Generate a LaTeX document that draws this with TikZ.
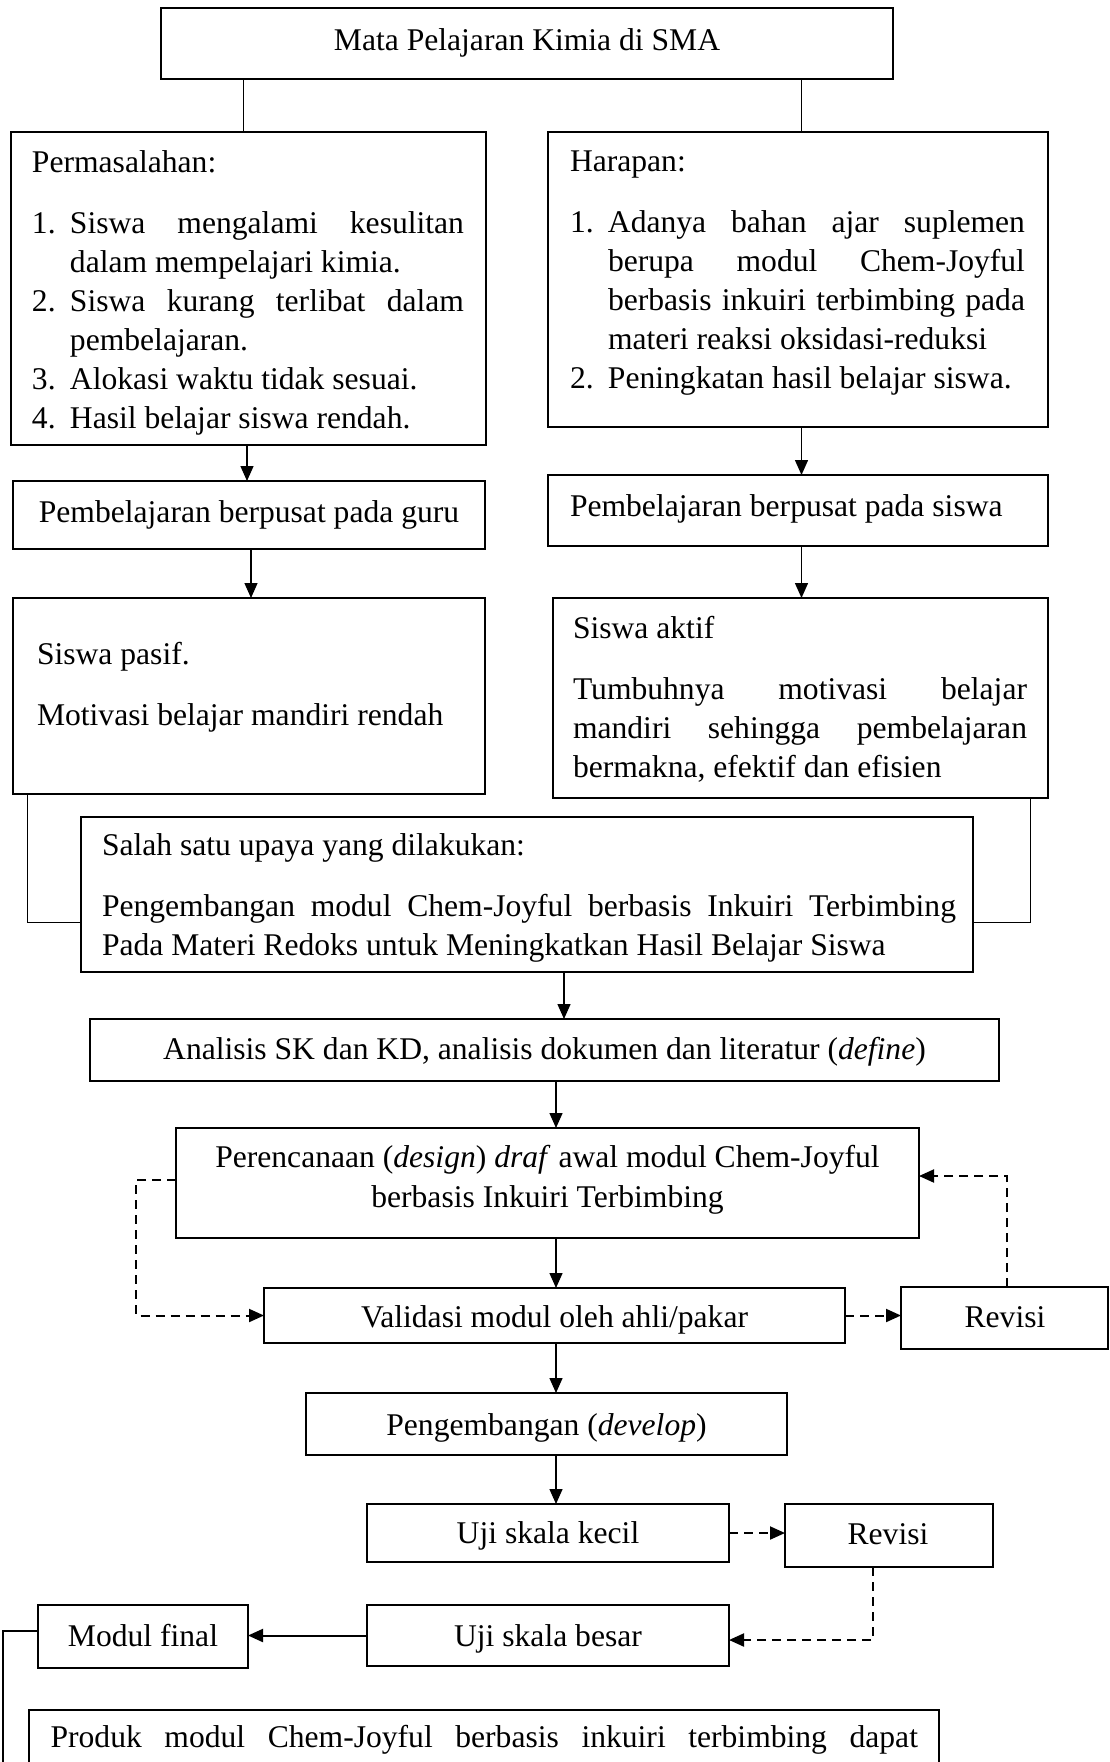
\documentclass[tikz,border=0pt]{standalone}
\usepackage{fontspec}
\setmainfont{Liberation Serif}
\usetikzlibrary{arrows.meta,calc}
\hyphenpenalty=10000 \exhyphenpenalty=10000 \tolerance=10000 \hbadness=10000
\newcommand\fs{\fontsize{15.8}{19.5}\selectfont}
\newcommand\litem[2]{\par\hangindent=19pt\hangafter=1\noindent\hbox to 19pt{#1\hfil}#2}
\newcommand\mkbox[5]{\node[box, minimum width={(#4-#2)*0.5pt}, minimum height={(#5-#3)*0.5pt}, anchor=north west] (#1) at (#2,#3) {};}
\tikzset{
  box/.style={draw, line width=1.1pt, outer sep=0pt, inner sep=0pt},
  lbl/.style={inner sep=0pt, outer sep=0pt, font=\fs, anchor=base},
  para/.style={inner sep=0pt, outer sep=0pt, font=\fs, anchor=base west, align=justify},
  thinline/.style={line width=0.5pt},
  arr/.style={line width=0.7pt, -{Triangle[length=7.5pt,width=6.5pt]}},
  dsh/.style={line width=1pt, dash pattern=on 4.5pt off 3pt, -{Triangle[length=7.5pt,width=6.5pt]}},
}
\begin{document}
\begin{tikzpicture}[x=0.5pt,y=-0.5pt]
\useasboundingbox (0,0) rectangle (1109,1762);
\clip (0,0) rectangle (1109,1762);
\coordinate (spine) at (556,0);
\coordinate (bl) at (3,1790);
% boxes
\mkbox{top}{161}{8}{893}{79}
\mkbox{perm}{11}{132}{486}{445}
\mkbox{harap}{548}{132}{1048}{427}
\mkbox{guru}{13}{481}{485}{549}
\mkbox{siswa}{548}{475}{1048}{546}
\mkbox{pasif}{13}{598}{485}{794}
\mkbox{aktif}{553}{598}{1048}{798}
\mkbox{salah}{81}{817}{973}{972}
\mkbox{analisis}{90}{1019}{999}{1081}
\mkbox{perenc}{176}{1128}{919}{1238}
\mkbox{validasi}{264}{1288}{845}{1343}
\mkbox{revisiA}{901}{1287}{1108}{1349}
\mkbox{develop}{306}{1393}{787}{1455}
\mkbox{kecil}{367}{1504}{729}{1562}
\mkbox{revisiB}{785}{1504}{993}{1567}
\mkbox{besar}{367}{1605}{729}{1666}
\mkbox{modul}{38}{1605}{248}{1668}
\mkbox{produk}{29}{1710}{939}{1840}
% texts
\node[lbl] (t0) at (527,50) {Mata Pelajaran Kimia di SMA};
\node[para, text width=216pt] (tperm) at (32,172) {Permasalahan:\par\vspace{11pt}%
\litem{1.}{Siswa mengalami kesulitan\linebreak dalam mempelajari kimia.}%
\litem{2.}{Siswa kurang terlibat dalam\linebreak pembelajaran.}%
\litem{3.}{Alokasi waktu tidak sesuai.}%
\litem{4.}{Hasil belajar siswa rendah.}};
\node[para, text width=227.5pt] (tharap) at (570,171) {Harapan:\par\vspace{11pt}%
\litem{1.}{Adanya bahan ajar suplemen\linebreak berupa modul Chem-Joyful\linebreak berbasis inkuiri terbimbing pada\linebreak materi reaksi oksidasi-reduksi}%
\litem{2.}{Peningkatan hasil belajar siswa.}};
\node[lbl] (tguru) at (249,522) {Pembelajaran berpusat pada guru};
\node[lbl, anchor=base west] (tsiswa) at (570,516) {Pembelajaran berpusat pada siswa};
\node[para, text width=216pt] (tpasif) at (37,664) {Siswa pasif.\par\vspace{11pt}Motivasi belajar mandiri rendah};
\node[para, text width=227pt] (taktif) at (573,638) {Siswa aktif\par\vspace{11pt}Tumbuhnya motivasi belajar\linebreak mandiri sehingga pembelajaran\linebreak bermakna, efektif dan efisien};
\node[para, text width=427pt] (tsalah) at (102,855) {Salah satu upaya yang dilakukan:\par\vspace{11pt}Pengembangan modul Chem-Joyful berbasis Inkuiri Terbimbing\linebreak Pada Materi Redoks untuk Meningkatkan Hasil Belajar Siswa};
\node[lbl] (tanalisis) at (544.5,1059) {Analisis SK dan KD, analisis dokumen dan literatur (\textit{define})};
\node[lbl] (tperencA) at (547.5,1167) {Perencanaan (\textit{design}) \textit{draf} awal modul Chem-Joyful};
\node[lbl] (tperencB) at (547.5,1207) {berbasis Inkuiri Terbimbing};
\node[lbl] (tvalidasi) at (554.5,1327) {Validasi modul oleh ahli/pakar};
\node[lbl] (trevisiA) at (1005,1327) {Revisi};
\node[lbl] (tdevelop) at (546.5,1435) {Pengembangan (\textit{develop})};
\node[lbl] (tkecil) at (548,1543) {Uji skala kecil};
\node[lbl] (trevisiB) at (888,1544) {Revisi};
\node[lbl] (tbesar) at (548,1646) {Uji skala besar};
\node[lbl] (tmodul) at (143,1646) {Modul final};
\node[para, text width=433.7pt] (tproduk) at (50.6,1747) {Produk modul Chem-Joyful berbasis inkuiri terbimbing dapat\linebreak\mbox{}};
% thin connectors
\draw[thinline] ([xshift=-2.75pt]perm.north) -- ([xshift=-2.75pt]perm.north |- top.south);
\draw[thinline] ([xshift=1.75pt]harap.north) -- ([xshift=1.75pt]harap.north |- top.south);
\draw[thinline] ([xshift=7pt]pasif.south west) |- ([yshift=-13.75pt]salah.west);
\draw[thinline] ([xshift=-9pt]aktif.south east) |- ([yshift=-13.75pt]salah.east);
% solid arrows
\draw[arr] ([xshift=-0.75pt]perm.south) -- ([xshift=-0.75pt]perm.south |- guru.north);
\draw[arr] ([xshift=1pt]guru.south) -- ([xshift=1pt]guru.south |- pasif.north);
\draw[arr] ([xshift=1.75pt]harap.south) -- ([xshift=1.75pt]harap.south |- siswa.north);
\draw[arr] ([xshift=1.75pt]siswa.south) -- ([xshift=1.75pt]siswa.south |- aktif.north);
\draw[arr] ([xshift=18.5pt]salah.south) -- ([xshift=18.5pt]salah.south |- analisis.north);
\draw[arr] (analisis.south -| spine) -- (perenc.north -| spine);
\draw[arr] (perenc.south -| spine) -- (validasi.north -| spine);
\draw[arr] (validasi.south -| spine) -- (develop.north -| spine);
\draw[arr] (develop.south -| spine) -- (kecil.north -| spine);
\draw[arr, line width=1pt] (besar.west) -- (besar.west -| modul.east);
\draw[line width=0.9pt] ([yshift=2.75pt]modul.west) -| (bl);
% dashed
\draw[dsh] ([yshift=1.5pt]perenc.west) -- ++(-20pt,0) |- (validasi.west);
\draw[dsh] (validasi.east) -- (validasi.east -| revisiA.west);
\draw[dsh] ([xshift=1.25pt]revisiA.north) |- ([yshift=3.5pt]perenc.east);
\draw[dsh] (kecil.east) -- (kecil.east -| revisiB.west);
\draw[dsh] ([xshift=-8pt]revisiB.south) |- ([yshift=-2.25pt]besar.east);
\end{tikzpicture}
\end{document}
